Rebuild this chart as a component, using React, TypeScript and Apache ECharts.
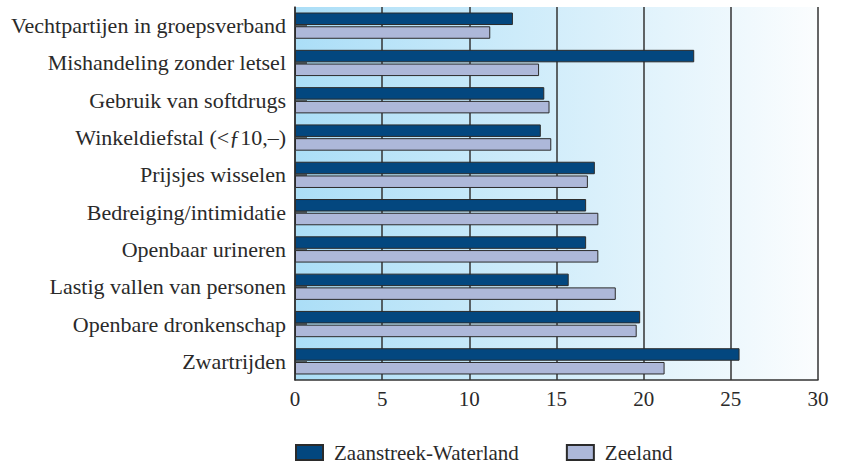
import React, { useEffect, useRef } from "react";
import * as echarts from "echarts";

const categories = [
  "Vechtpartijen in groepsverband",
  "Mishandeling zonder letsel",
  "Gebruik van softdrugs",
  "Winkeldiefstal (<ƒ10,–)",
  "Prijsjes wisselen",
  "Bedreiging/intimidatie",
  "Openbaar urineren",
  "Lastig vallen van personen",
  "Openbare dronkenschap",
  "Zwartrijden",
];
const zaanstreek = [12.5, 22.9, 14.3, 14.1, 17.2, 16.7, 16.7, 15.7, 19.8, 25.5];
const zeeland = [11.2, 14.0, 14.6, 14.7, 16.8, 17.4, 17.4, 18.4, 19.6, 21.2];
const seriesNames = ["Zaanstreek-Waterland", "Zeeland"];

const FONT = "'Liberation Serif', 'Times New Roman', serif";

export default function App() {
  const ref = useRef<HTMLDivElement>(null);
  useEffect(() => {
    if (!ref.current) return;
    const chart = echarts.init(ref.current, undefined, { renderer: "svg" });
    chart.setOption({
      animation: false,
      backgroundColor: "#ffffff",
      textStyle: { fontFamily: FONT },
      grid: {
        left: 295,
        right: 27,
        top: 7,
        bottom: 85,
        show: true,
        borderWidth: 0,
        backgroundColor: new echarts.graphic.LinearGradient(0, 0, 1, 0, [
          { offset: 0, color: "#abdef7" },
          { offset: 1, color: "#fbfdfe" },
        ]),
      },
      legend: {
        left: 295,
        top: 442,
        padding: 0,
        itemWidth: 27,
        itemHeight: 15,
        itemGap: 47,
        icon: "rect",
        textStyle: {
          fontFamily: FONT,
          fontSize: 21,
          color: "#2a2a2a",
          padding: [0, 0, 0, 6],
        },
        data: seriesNames,
      },
      xAxis: {
        type: "value",
        min: 0,
        max: 30,
        interval: 5,
        axisLine: { show: true, lineStyle: { color: "#333", width: 1.5 } },
        axisTick: { show: false },
        splitLine: { show: true, lineStyle: { color: "#333", width: 1.5 } },
        axisLabel: {
          fontFamily: FONT,
          fontSize: 21,
          color: "#2a2a2a",
          margin: 8,
        },
      },
      yAxis: {
        type: "category",
        inverse: true,
        data: categories,
        axisLine: { show: true, lineStyle: { color: "#333", width: 1.5 } },
        axisTick: {
          show: true,
          inside: true,
          alignWithLabel: true,
          length: 12,
          lineStyle: { color: "#333", width: 1.5 },
        },
        axisLabel: {
          fontFamily: FONT,
          fontSize: 22,
          color: "#2a2a2a",
          margin: 9,
        },
      },
      series: [
        {
          name: seriesNames[0],
          type: "bar",
          data: zaanstreek,
          barWidth: 12.5,
          barGap: "10%",
          itemStyle: { color: "#03477f", borderColor: "#2b2b2b", borderWidth: 1 },
        },
        {
          name: seriesNames[1],
          type: "bar",
          data: zeeland,
          barWidth: 12.5,
          barGap: "10%",
          itemStyle: { color: "#adb8d9", borderColor: "#2b2b2b", borderWidth: 1 },
        },
      ],
    });
    return () => chart.dispose();
  }, []);
  return <div ref={ref} style={{ width: 845, height: 465, position: "absolute", left: 0, top: 0 }} />;
}
